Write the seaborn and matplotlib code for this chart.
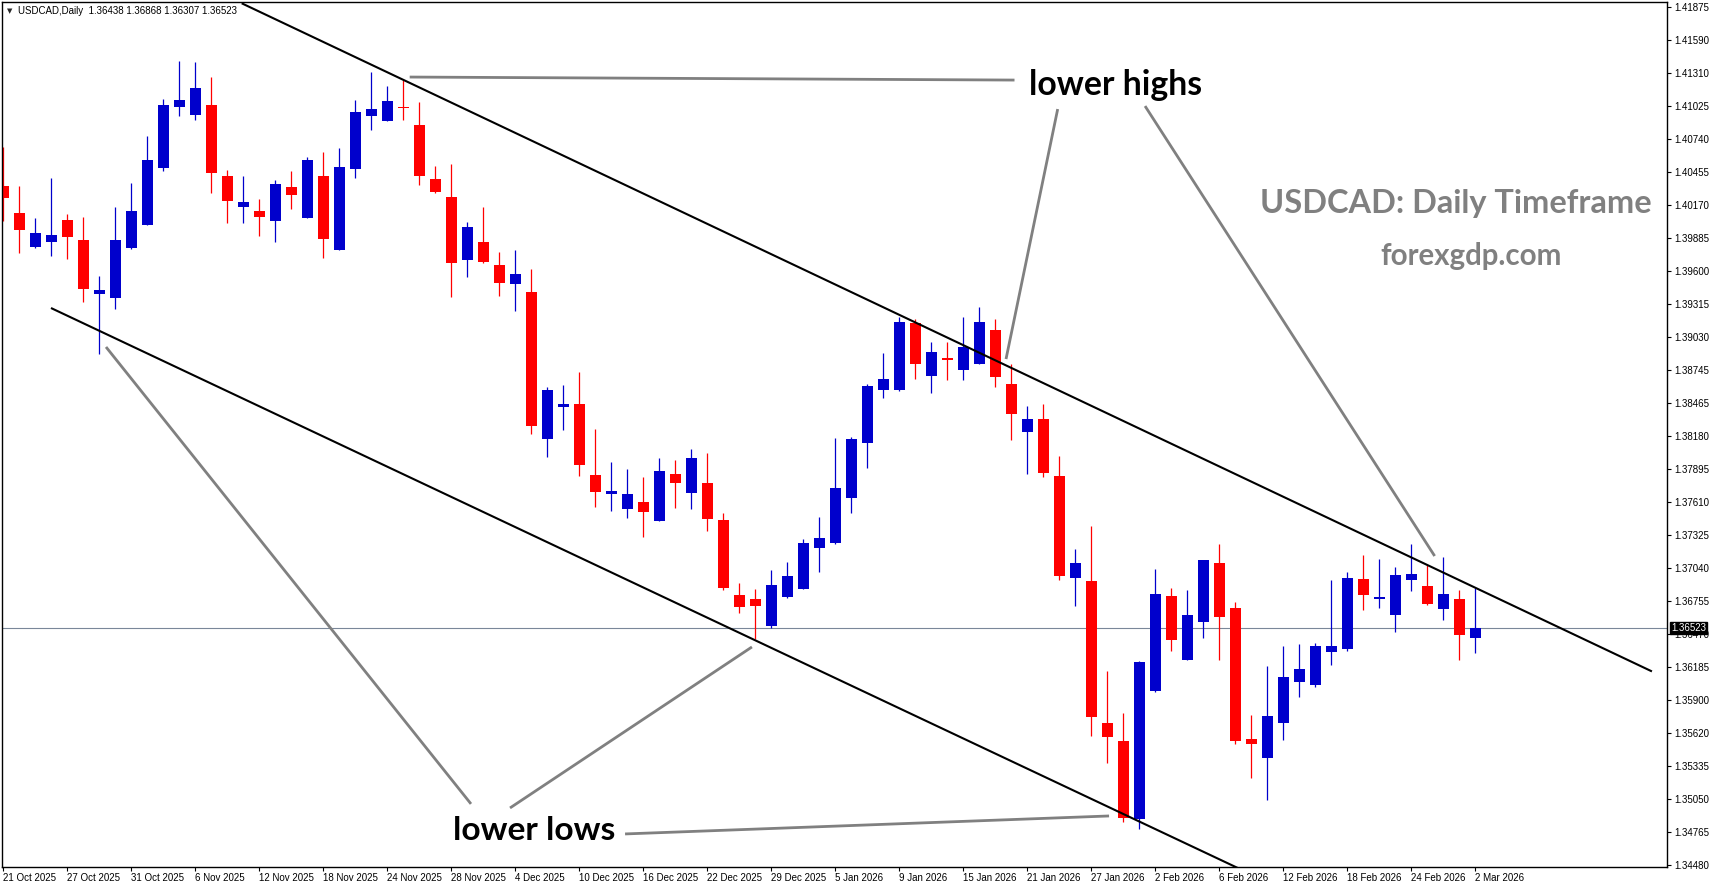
import numpy as np
import pandas as pd
import matplotlib
matplotlib.use("Agg")
import matplotlib.pyplot as plt
import seaborn as sns

# USDCAD daily candles, 21 Oct 2025 .. 2 Mar 2026
opens = [1.40332, 1.40099, 1.39806, 1.39849, 1.40039, 1.39866, 1.39401, 1.39366, 1.39797, 1.39996,
         1.40487, 1.41013, 1.40944, 1.41030, 1.40418, 1.40151, 1.40116, 1.40030, 1.40323, 1.40056,
         1.40418, 1.39780, 1.40478, 1.40935, 1.40892, 1.41013, 1.40858, 1.40392, 1.40237, 1.39694,
         1.39849, 1.39651, 1.39487, 1.39418, 1.38151, 1.38427, 1.38453, 1.37841, 1.37677, 1.37547,
         1.37608, 1.37444, 1.37849, 1.37685, 1.37772, 1.37453, 1.36806, 1.36772, 1.36539, 1.36789,
         1.36858, 1.37211, 1.37254, 1.37642, 1.38116, 1.38573, 1.38573, 1.39151, 1.38694, 1.38849,
         1.38746, 1.38797, 1.39090, 1.38625, 1.38211, 1.38323, 1.37832, 1.36953, 1.36927, 1.35703,
         1.35548, 1.34875, 1.35979, 1.36798, 1.36246, 1.36573, 1.37082, 1.36694, 1.35565, 1.35401,
         1.35703, 1.36056, 1.36030, 1.36315, 1.36341, 1.36944, 1.36772, 1.36634, 1.36935, 1.36884,
         1.36685, 1.36772, 1.36438]
highs = [1.40668, 1.40332, 1.40056, 1.40401, 1.40090, 1.40065, 1.39556, 1.40151, 1.40358, 1.40763,
         1.41082, 1.41409, 1.41401, 1.41271, 1.40470, 1.40418, 1.40220, 1.40383, 1.40461, 1.40582,
         1.40625, 1.40659, 1.41073, 1.41314, 1.41194, 1.41245, 1.41056, 1.40504, 1.40521, 1.40021,
         1.40151, 1.39763, 1.39780, 1.39616, 1.38599, 1.38616, 1.38728, 1.38237, 1.37953, 1.37892,
         1.37823, 1.37987, 1.37970, 1.38065, 1.38030, 1.37513, 1.36910, 1.36858, 1.37022, 1.37091,
         1.37289, 1.37479, 1.38159, 1.38168, 1.38625, 1.38892, 1.39203, 1.39185, 1.38987, 1.38987,
         1.39203, 1.39289, 1.39185, 1.38797, 1.38435, 1.38453, 1.38004, 1.37203, 1.37401, 1.36151,
         1.35789, 1.36237, 1.37030, 1.36866, 1.36849, 1.37108, 1.37246, 1.36746, 1.35772, 1.36194,
         1.36367, 1.36384, 1.36392, 1.36935, 1.37004, 1.37151, 1.37116, 1.37048, 1.37246, 1.37065,
         1.37134, 1.36849, 1.36868]
lows = [1.40030, 1.39754, 1.39797, 1.39728, 1.39702, 1.39332, 1.38884, 1.39271, 1.39789, 1.39996,
        1.40461, 1.40935, 1.40901, 1.40271, 1.40013, 1.40013, 1.39901, 1.39849, 1.40133, 1.40056,
        1.39711, 1.39780, 1.40401, 1.40814, 1.40892, 1.40901, 1.40340, 1.40271, 1.39375, 1.39547,
        1.39668, 1.39384, 1.39254, 1.38194, 1.37996, 1.38228, 1.37832, 1.37565, 1.37530, 1.37470,
        1.37306, 1.37444, 1.37556, 1.37547, 1.37358, 1.36849, 1.36651, 1.36427, 1.36522, 1.36780,
        1.36858, 1.37004, 1.37246, 1.37513, 1.37901, 1.38504, 1.38565, 1.38668, 1.38547, 1.38659,
        1.38659, 1.38797, 1.38599, 1.38142, 1.37849, 1.37823, 1.36935, 1.36711, 1.35591, 1.35358,
        1.34849, 1.34789, 1.35970, 1.36323, 1.36246, 1.36435, 1.36246, 1.35522, 1.35229, 1.35039,
        1.35556, 1.35927, 1.36013, 1.36203, 1.36323, 1.36677, 1.36694, 1.36487, 1.36841, 1.36720,
        1.36591, 1.36246, 1.36307]
closes = [1.40228, 1.39952, 1.39927, 1.39909, 1.39892, 1.39444, 1.39435, 1.39866, 1.40116, 1.40556,
          1.41030, 1.41073, 1.41176, 1.40444, 1.40202, 1.40194, 1.40065, 1.40349, 1.40254, 1.40556,
          1.39875, 1.40495, 1.40970, 1.40995, 1.41064, 1.41000, 1.40418, 1.40280, 1.39668, 1.39978,
          1.39677, 1.39496, 1.39573, 1.38263, 1.38573, 1.38453, 1.37927, 1.37694, 1.37703, 1.37677,
          1.37522, 1.37875, 1.37772, 1.37987, 1.37461, 1.36866, 1.36703, 1.36711, 1.36892, 1.36970,
          1.37254, 1.37297, 1.37728, 1.38151, 1.38608, 1.38668, 1.39159, 1.38797, 1.38901, 1.38832,
          1.38944, 1.39159, 1.38685, 1.38366, 1.38323, 1.37858, 1.36970, 1.37082, 1.35755, 1.35582,
          1.34884, 1.36229, 1.36815, 1.36418, 1.36634, 1.37108, 1.36617, 1.35548, 1.35522, 1.35763,
          1.36099, 1.36168, 1.36367, 1.36367, 1.36953, 1.36806, 1.36789, 1.36979, 1.36987, 1.36729,
          1.36815, 1.36461, 1.36523]

date_labels = ["21 Oct 2025", "27 Oct 2025", "31 Oct 2025", "6 Nov 2025", "12 Nov 2025", "18 Nov 2025",
               "24 Nov 2025", "28 Nov 2025", "4 Dec 2025", "10 Dec 2025", "16 Dec 2025", "22 Dec 2025",
               "29 Dec 2025", "5 Jan 2026", "9 Jan 2026", "15 Jan 2026", "21 Jan 2026", "27 Jan 2026",
               "2 Feb 2026", "6 Feb 2026", "12 Feb 2026", "18 Feb 2026", "24 Feb 2026", "2 Mar 2026"]
price_ticks = [1.41875, 1.41590, 1.41310, 1.41025, 1.40740, 1.40455, 1.40170, 1.39885, 1.39600,
               1.39315, 1.39030, 1.38745, 1.38465, 1.38180, 1.37895, 1.37610, 1.37325, 1.37040,
               1.36755, 1.36470, 1.36185, 1.35900, 1.35620, 1.35335, 1.35050, 1.34765, 1.34480]
last_price = 1.36523

# channel lines and annotation pointers as (bar, price) pairs
upper_channel = [(14.9, 1.41907), (103.04, 1.36147)]
lower_channel = [(2.98, 1.39280), (77.5, 1.34430)]
pointer_lines = [
    [(25.4, 1.41271), (63.2, 1.41245)],
    [(65.9, 1.40995), (62.67, 1.38840)],
    [(71.36, 1.41021), (89.46, 1.37142)],
    [(6.42, 1.38944), (29.23, 1.35005)],
    [(31.67, 1.34970), (46.79, 1.36358)],
    [(38.86, 1.34746), (69.11, 1.34901)],
]

W, H = 1713, 888
BLUE = "#0000CC"
RED = "#FF0000"
GRAY = "#808080"

sns.set_theme(style="white")
plt.rcParams["font.family"] = ["Liberation Sans", "DejaVu Sans"]

df = pd.DataFrame({"open": opens, "high": highs, "low": lows, "close": closes})
df["bar"] = np.arange(len(df))
df["up"] = df["close"] > df["open"]
df["color"] = np.where(df["up"], BLUE, RED)
df["body_lo"] = df[["open", "close"]].min(axis=1)
df["body_h"] = (df["close"] - df["open"]).abs().clip(lower=0.00013)

fig = plt.figure(figsize=(W / 100, H / 100), dpi=100)
ax = fig.add_axes([2 / W, 21 / H, 1665 / W, 865 / H])
ax.set_facecolor("white")

# last price line behind the candles
ax.axhline(last_price, color="#7a8799", lw=0.8, zorder=1)

ax.vlines(df["bar"], df["low"], df["high"], colors=df["color"], lw=0.9, zorder=2)
ax.bar(df["bar"], df["body_h"], bottom=df["body_lo"], width=0.69, color=df["color"],
       linewidth=0, zorder=2)

for pts in [upper_channel, lower_channel]:
    xs, ys = zip(*pts)
    ax.plot(xs, ys, color="black", lw=1.5, zorder=3, solid_capstyle="butt")
for pts in pointer_lines:
    xs, ys = zip(*pts)
    ax.plot(xs, ys, color=GRAY, lw=2.0, zorder=3, solid_capstyle="butt")

ax.set_xlim((2 - 3.3) / 16, (1667 - 3.3) / 16)
ax.set_ylim(1.34461, 1.41918)

ax.set_xticks(np.arange(0, len(df), 4))
ax.set_xticklabels(date_labels, ha="left", fontsize=7)
ax.yaxis.tick_right()
ax.set_yticks(price_ticks)
ax.set_yticklabels([f"{v:.5f}" for v in price_ticks], fontsize=7)
ax.tick_params(axis="x", direction="out", length=3, width=0.8, pad=1, colors="black",
               bottom=True)
ax.tick_params(axis="y", direction="out", length=3, width=0.8, pad=2, colors="black",
               right=True, left=False)
ax.grid(False)
for s in ax.spines.values():
    s.set_visible(True)
    s.set_color("black")
    s.set_linewidth(1.0)

# last price marker on the price scale
ax.annotate(f"{last_price:.5f}", xy=(1, last_price), xycoords=("axes fraction", "data"),
            xytext=(3, 0), textcoords="offset points", ha="left", va="center",
            fontsize=7, color="white", annotation_clip=False, zorder=10,
            bbox=dict(boxstyle="square,pad=0.12", fc="black", ec="black"))

# header
fig.text(7 / W, 1 - 11 / H, "\u25BC", fontsize=5, family=["DejaVu Sans"], va="center", ha="left")
fig.text(18 / W, 1 - 11 / H, "USDCAD,Daily  1.36438 1.36868 1.36307 1.36523",
         fontsize=7, va="center", ha="left", color="black")

# big labels, font size fitted to the width they have in the reference
big_font = ["Lato", "Liberation Sans", "DejaVu Sans"]
labels = [
    ("lower highs", 1029, 95, 173, "left", "black"),
    ("lower lows", 453, 840, 162, "left", "black"),
    ("USDCAD: Daily Timeframe", 1456, 213, 392, "center", GRAY),
    ("forexgdp.com", 1471, 265, 182, "center", GRAY),
]
texts = []
for s, x, y, w, ha, c in labels:
    t = fig.text(x / W, 1 - y / H, s, fontsize=26, weight="bold", family=big_font,
                 ha=ha, va="baseline", color=c)
    texts.append((t, w))
fig.canvas.draw()
renderer = fig.canvas.get_renderer()
for t, w in texts:
    cur = t.get_window_extent(renderer).width
    t.set_fontsize(t.get_fontsize() * w / cur)

fig.savefig("out.png", dpi=100, facecolor="white")
